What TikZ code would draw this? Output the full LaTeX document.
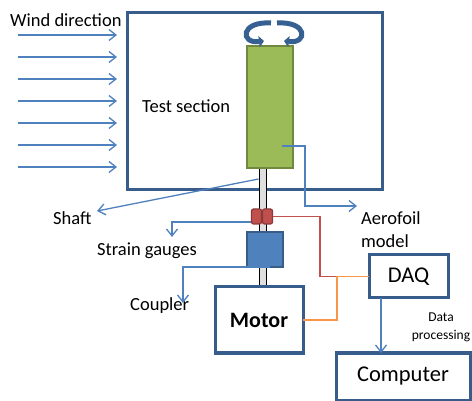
\documentclass[tikz,border=0pt]{standalone}
\usepackage{fontspec}
\setmainfont{Carlito}
\usetikzlibrary{arrows.meta, positioning}

\definecolor{boxblue}{HTML}{385D8A}
\definecolor{arrowblue}{HTML}{4F81BD}
\definecolor{foilgreen}{HTML}{9BBB59}
\definecolor{foilborder}{HTML}{71893F}
\definecolor{gaugered}{HTML}{C0504D}
\definecolor{gaugeborder}{HTML}{8C3A38}
\definecolor{wireorange}{HTML}{F79646}
\definecolor{spinblue}{HTML}{376092}

\begin{document}
\begin{tikzpicture}[
        x=1pt, y=-1pt,
        box/.style={rectangle, draw=boxblue, line width=3pt, fill=white, inner sep=0pt, outer sep=0pt},
        txt/.style={font=\fontsize{18.5}{23}\selectfont, inner sep=0pt, anchor=west},
        bigtxt/.style={font=\fontsize{22.5}{26}\selectfont},
        pointer/.style={draw=arrowblue, line width=1.3pt, -{Straight Barb[length=7pt, width=11pt]}},
        spin/.style={draw=spinblue, line width=5pt, -{Triangle[length=5pt, width=11pt]}},
        foilbox/.style={rectangle, draw=foilborder, fill=foilgreen, line width=2.5pt, inner sep=0pt},
        shaftbar/.style={rectangle, draw=black, fill=gray!25, line width=1pt, inner sep=0pt},
        gauge/.style={rectangle, rounded corners=2pt, draw=gaugeborder, fill=gaugered, line width=1.2pt, inner sep=0pt, minimum width=10pt, minimum height=15pt},
        couplerbox/.style={rectangle, draw=boxblue, fill=arrowblue, line width=2.5pt, inner sep=0pt}
    ]
    \useasboundingbox (0,0) rectangle (472,401);

    % Wind tunnel test section
    \node[box, fill=none, minimum width=255pt, minimum height=177pt] (test) at (254.5,101.5) {};
    \node[txt] (windlbl) at (10,20) {Wind direction};
    \node[txt] (testlbl) at (142,106) {Test section};

    % Wind arrows
    \foreach \y [count=\i] in {35,57,...,167} {
        \coordinate (w\i) at (18,\y);
        \draw[pointer, shorten >=10pt] (w\i) -- (w\i -| test.west);
    }

    % Model, shaft and rig
    \node[shaftbar, minimum width=7pt, minimum height=121pt] (shaft) at (262.5,228.5) {};
    \node[foilbox, minimum width=46pt, minimum height=122pt] (foil) at (270,107) {};
    \node[gauge] (sgL) at (256.5,216.5) {};
    \node[gauge] (sgR) at (267.5,216.5) {};
    \node[couplerbox, minimum width=36pt, minimum height=35pt] (coupler) at (265,249.5) {};

    % Rotation
    \draw[spin] (271,23) .. controls (240,21) and (240,44) .. (264,41);
    \draw[spin] (277,23) .. controls (308,21) and (308,44) .. (284,41);

    % Boxes
    \node[box, minimum width=88pt, minimum height=66pt, font=\fontsize{22}{26}\selectfont\bfseries] (motor) at (259,320) {Motor};
    \node[box, minimum width=79pt, minimum height=43pt, bigtxt] (daq) at (408.5,276.5) {DAQ};
    \node[box, minimum width=134pt, minimum height=47pt, bigtxt] (computer) at (403,376.5) {Computer};

    % Labels
    \node[txt] (shaftlbl) at (53,218) {Shaft};
    \node[txt] (gaugelbl) at (97,251) {Strain gauges};
    \node[txt] (couplerlbl) at (130,306) {Coupler};
    \node[txt, align=left] (foillbl) at (361,229.5) {Aerofoil\\model};
    \node[font=\fontsize{13.5}{18}\selectfont, align=center, inner sep=0pt] (datalbl) at (441,327) {Data\\processing};

    % --- Edges ---
    \coordinate (shaftTip) at (97,211);
    \coordinate (gaugeTip) at (172,237);
    \coordinate (couplerTip) at (183,303);
    \coordinate (foilTip) at (357,206);

    \draw[pointer] ([yshift=49.5pt]shaft.west) -- (shaftTip);
    \draw[pointer] ([yshift=-5.5pt]sgL.west) -| (gaugeTip);
    \draw[pointer] ([xshift=5pt, yshift=-17.5pt]coupler.center) -| (couplerTip);
    \draw[pointer] ([xshift=12pt, yshift=-39pt]foil.center) -- ++(23,0) |- (foilTip);

    % Wires
    \coordinate (jn) at ([xshift=-32pt]daq.west);
    \draw[gaugered, line width=1.3pt] (sgR.east) -| ([xshift=-17pt]jn) -- (jn);
    \draw[wireorange, line width=1.3pt] (daq.west) -- (jn) |- (motor.east);

    % DAQ to computer
    \coordinate (dq) at ([xshift=-27.5pt]daq.south);
    \draw[pointer] (dq) -- (dq |- computer.north);

\end{tikzpicture}
\end{document}
